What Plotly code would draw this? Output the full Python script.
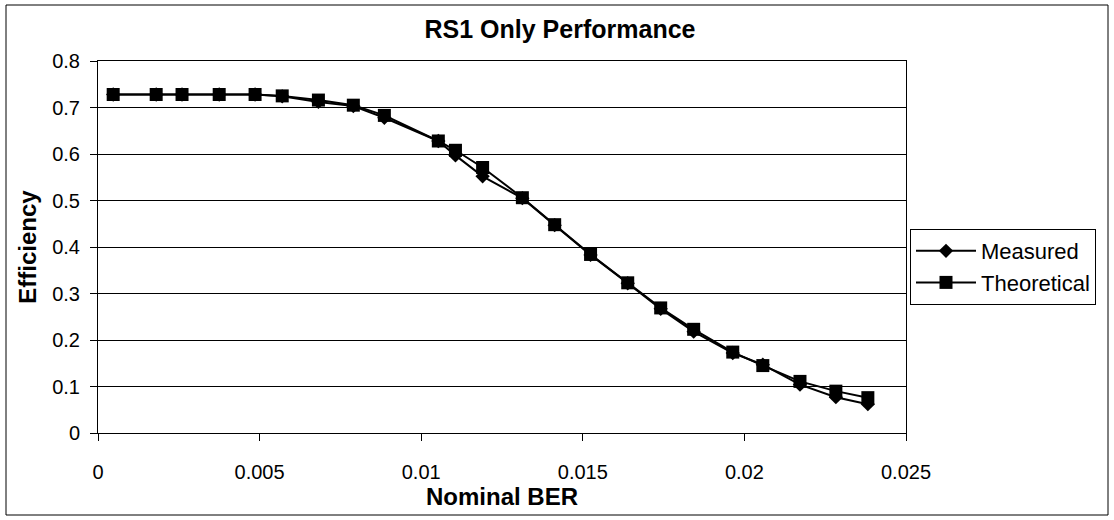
import plotly.graph_objects as go

ber = [0.00047, 0.0018, 0.0026, 0.00375, 0.00486, 0.0057, 0.00682, 0.0079, 0.00886,
       0.01053, 0.01106, 0.0119, 0.01313, 0.01413, 0.01524, 0.01639, 0.01741, 0.01843,
       0.01964, 0.02057, 0.02172, 0.02283, 0.02382]
measured = [0.728, 0.728, 0.728, 0.728, 0.728, 0.724, 0.712, 0.703, 0.678, 0.628, 0.597,
            0.552, 0.505, 0.447, 0.383, 0.322, 0.267, 0.218, 0.172, 0.147, 0.104, 0.077, 0.062]
theoretical = [0.728, 0.728, 0.728, 0.728, 0.728, 0.725, 0.716, 0.705, 0.683, 0.628, 0.608,
               0.571, 0.506, 0.448, 0.384, 0.323, 0.269, 0.223, 0.174, 0.145, 0.111, 0.090, 0.076]
x_ticks = [0, 0.005, 0.01, 0.015, 0.02, 0.025]
x_tick_labels = ["0", "0.005", "0.01", "0.015", "0.02", "0.025"]
y_ticks = [0, 0.1, 0.2, 0.3, 0.4, 0.5, 0.6, 0.7, 0.8]
y_tick_labels = ["0", "0.1", "0.2", "0.3", "0.4", "0.5", "0.6", "0.7", "0.8"]

FONT = "Liberation Sans, Arial, sans-serif"

fig = go.Figure()
fig.add_trace(go.Scatter(x=ber, y=measured, name="Measured", mode="lines+markers",
                         line=dict(color="black", width=2),
                         marker=dict(symbol="diamond", size=11, color="black")))
fig.add_trace(go.Scatter(x=ber, y=theoretical, name="Theoretical", mode="lines+markers",
                         line=dict(color="black", width=2),
                         marker=dict(symbol="square", size=13, color="black")))

L, R, T, B = 98, 906, 61, 433
W, H = 1114, 520
pw, ph = R - L, B - T

def px(x):
    return (x - L) / pw

def py(y):
    return (B - y) / ph

fig.update_layout(
    width=W, height=H,
    margin=dict(l=L, r=W - R, t=T, b=H - B),
    paper_bgcolor="white", plot_bgcolor="white",
    font=dict(family=FONT, color="black", size=20),
    title=dict(text="<b>RS1 Only Performance</b>", xref="container", x=560 / W,
               xanchor="center", yref="container", y=1 - 29 / H, yanchor="middle",
               font=dict(size=25, family=FONT)),
    showlegend=True,
    legend=dict(x=px(910), y=py(229), xanchor="left", yanchor="top",
                bordercolor="black", borderwidth=1, bgcolor="white",
                font=dict(size=22, family=FONT), tracegroupgap=0,
                itemwidth=60),
    xaxis=dict(range=[0, 0.025], tickvals=x_ticks, ticktext=x_tick_labels,
               showgrid=False, zeroline=False, showline=True, linecolor="black",
               linewidth=1, mirror=True, ticks="outside", ticklen=7, tickcolor="black",
               tickfont=dict(size=20), ticklabelstandoff=14,
               title=dict(text="<b>Nominal BER</b>", font=dict(size=24), standoff=2)),
    yaxis=dict(range=[0, 0.8], tickvals=y_ticks, ticktext=y_tick_labels,
               showgrid=True, gridcolor="black", gridwidth=1, zeroline=False,
               showline=True, linecolor="black", linewidth=1, mirror=True,
               ticks="outside", ticklen=7, tickcolor="black", tickfont=dict(size=20),
               ticklabelstandoff=6,
               title=dict(text="<b>Efficiency</b>", font=dict(size=24), standoff=8)),
    shapes=[dict(type="rect", xref="paper", yref="paper",
                 x0=px(6), x1=px(1108), y0=py(515), y1=py(5),
                 line=dict(color="black", width=1), fillcolor="rgba(0,0,0,0)",
                 layer="below")],
)

fig.write_html("out.html")
